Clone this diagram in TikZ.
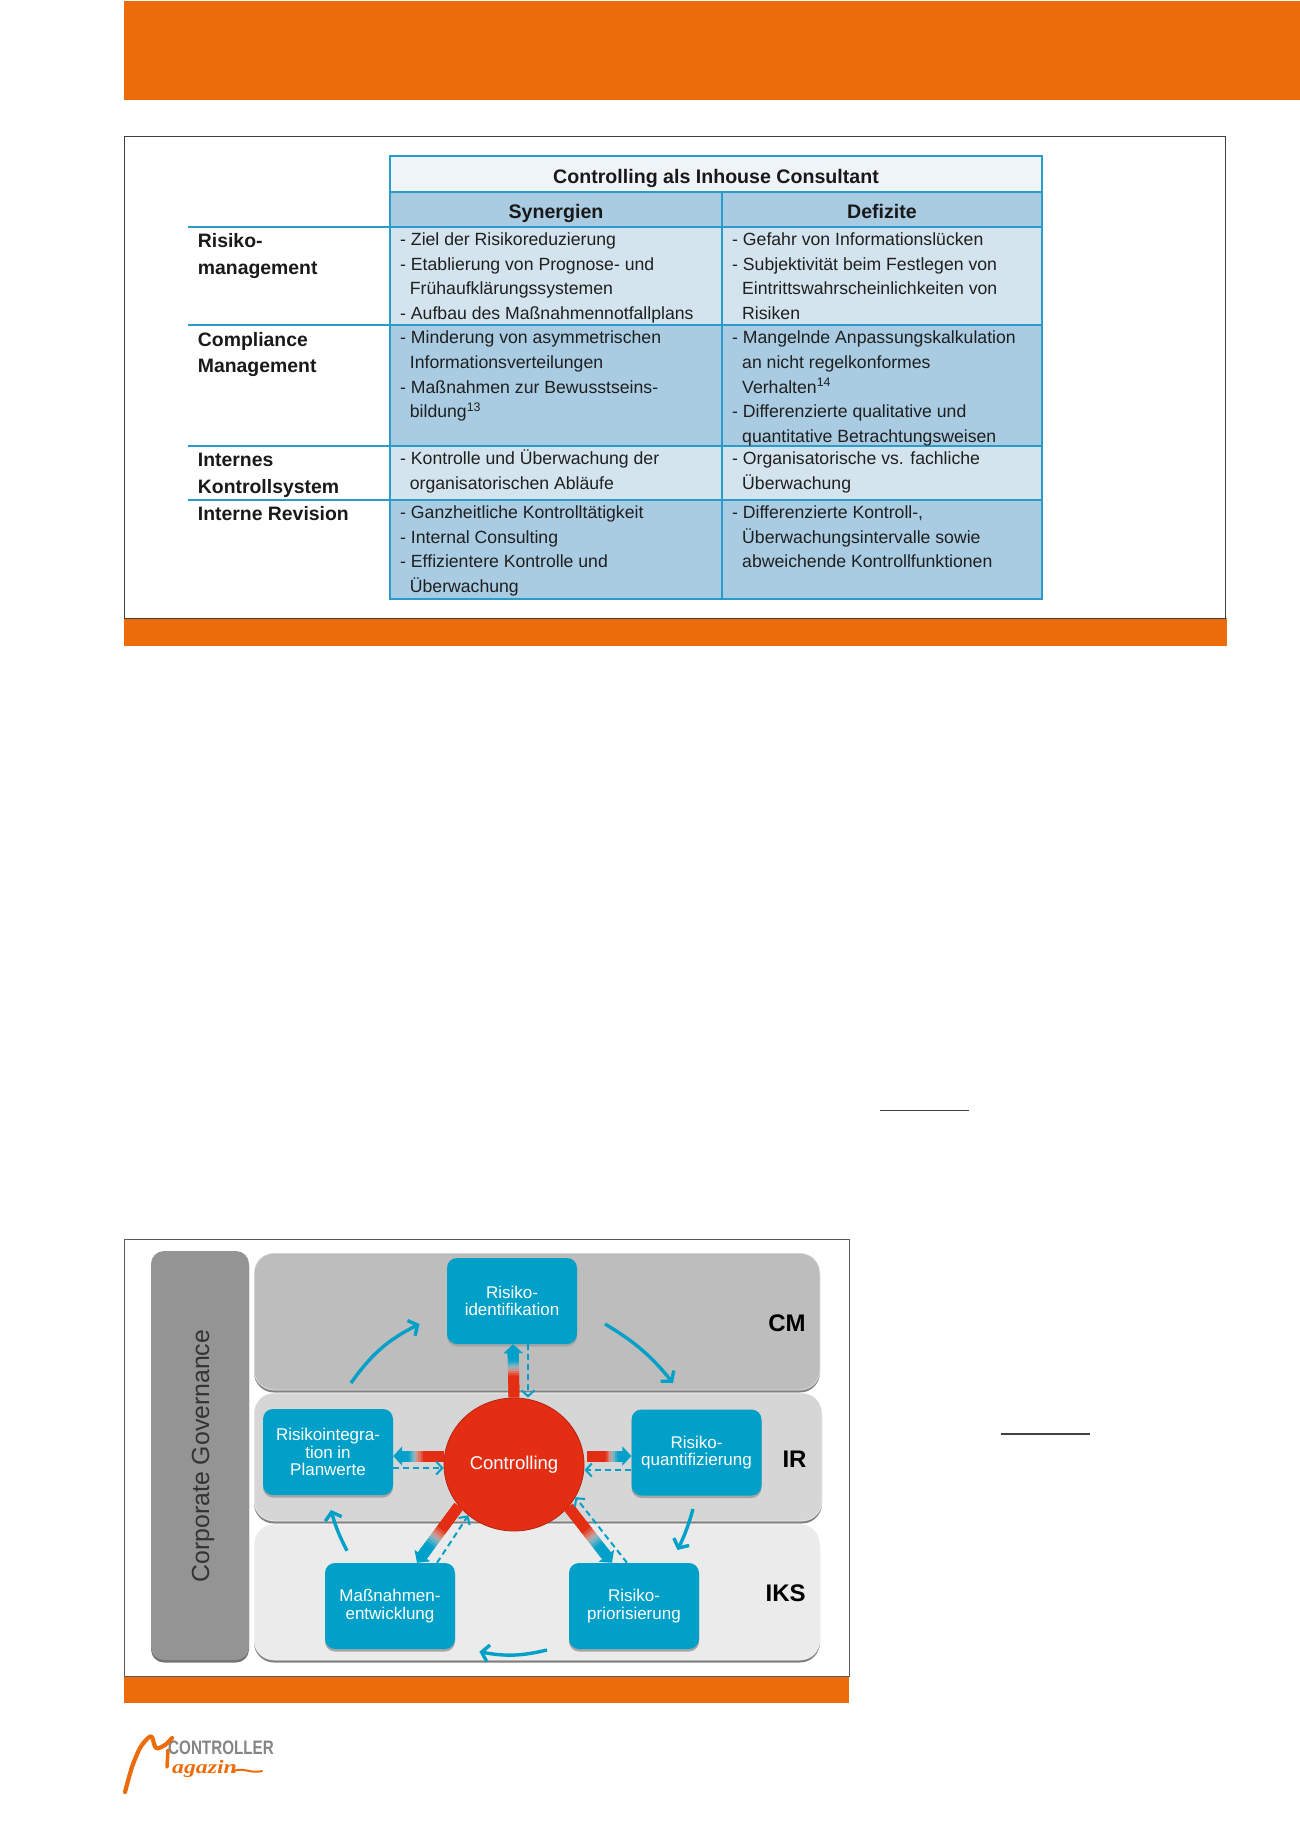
\documentclass[tikz,border=0pt]{standalone}
\usepackage{fontspec}
\setmainfont{Liberation Sans}
\newfontfamily\logofont{Liberation Serif}
\usetikzlibrary{arrows.meta,calc,shapes.geometric}

\definecolor{headorange}{HTML}{EC6C0B}
\definecolor{tableline}{HTML}{2A9CCB}
\definecolor{titlefill}{HTML}{EEF4F7}
\definecolor{darkrow}{HTML}{A9CCE3}
\definecolor{lightrow}{HTML}{D3E4EE}
\definecolor{linkblue}{HTML}{00A0C8}
\definecolor{linkred}{HTML}{E42E14}
\definecolor{linklight}{HTML}{D8C8C4}

\tikzset{
    celltext/.style={anchor=base west,inner sep=0pt,yshift=-0.5pt,text=black!88,font=\fontsize{17.65}{20}\selectfont},
    rowlabel/.style={anchor=base west,inner sep=0pt,text=black!90,font=\bfseries\fontsize{19.4}{22}\selectfont},
    headtext/.style={anchor=base,inner sep=0pt,text=black!90,font=\bfseries\fontsize{19.6}{22}\selectfont},
    bandshadow/.style={preaction={fill=#1,transform canvas={yshift=-2.5pt}}},
    stepbox/.style={rectangle,rounded corners=10pt,fill=linkblue,text=white,align=center,inner sep=0pt,
        minimum width=130pt,minimum height=86pt,bandshadow=black!35,
        font=\fontsize{17}{17.5}\selectfont},
    levellabel/.style={inner sep=0pt,text=black,font=\bfseries\fontsize{24}{24}\selectfont},
    backlink/.style={draw=linkblue,line width=2pt,dash pattern=on 6pt off 4pt,-{Straight Barb[length=6pt,width=13pt]}},
    cyclearrow/.style={draw=linkblue,line width=3.4pt,-{Straight Barb[length=7pt,width=17pt]}},
}

% thick connector, red at the first end, blue with a head at the second
\newcommand{\linkbar}[2]{%
    \foreach \i in {0,...,19} {
        \pgfmathsetmacro{\tpos}{\i/24}
        \pgfmathsetmacro{\tend}{\tpos+0.07}
        \pgfmathtruncatemacro{\pred}{max(0,min(100,(0.56-\tpos)/0.18*100))}
        \pgfmathtruncatemacro{\pblue}{max(0,min(100,(\tpos-0.48)/0.2*100))}
        \colorlet{barcol}{linkblue!\pblue!linklight}
        \colorlet{barcol}{linkred!\pred!barcol}
        \draw[barcol,line width=11pt] ($#1!\tpos!#2$) -- ($#1!\tend!#2$);
    }
    \draw[linkblue,line width=11pt,-{Triangle[width=19pt,length=9pt]}] ($#1!0.78!#2$) -- #2;
}

\begin{document}
\begin{tikzpicture}[x=1pt,y=-1pt]
    \useasboundingbox (0,0) rectangle (1300,1839);

    \fill[headorange] (124,1) rectangle (1300,99.5);

    % table frame
    \fill[headorange] (124,618) rectangle (1227,646);
    \draw[black!75,line width=1pt] (124,618) -- (124,136) -- (1225,136) -- (1225,618) -- cycle;

    % table fills
    \fill[titlefill] (390,156) rectangle (1042,192);
    \foreach \t/\b/\c in {192/227/darkrow,227/325/lightrow,325/446/darkrow,446/500/lightrow,500/599/darkrow}
        {\fill[\c] (390,\t) rectangle (1042,\b);}

    \draw[tableline,line width=1.8pt] (390,156) rectangle (1042,599);
    \draw[tableline,line width=1.8pt] (390,192) -- (1042,192);
    \draw[tableline,line width=1.8pt] (722,192) -- (722,599);
    \foreach \y in {227,325,446,500}
        {\draw[tableline,line width=1.8pt] (188,\y) -- (1042,\y);}

    \node[headtext] (title) at (716,183) {Controlling als Inhouse Consultant};
    \node[headtext] (synergien) at (556,218.5) {Synergien};
    \node[headtext] (defizite) at (882,218.5) {Defizite};

    \foreach \y/\v [count=\n] in {247.3/Risiko-,274/management,346.2/Compliance,372.7/Management,
        466.7/Internes,493.3/Kontrollsystem,520.7/Interne Revision}
        {\node[rowlabel] (label\n) at (197.7,\y) {\v};}

    \foreach \x/\y/\v [count=\n] in {400/245.3/- Ziel der Risikoreduzierung,
        400/270/- Etablierung von Prognose- und,
        409.7/294.3/Frühaufklärungssystemen,
        400/319/- Aufbau des Maßnahmennotfallplans,
        400/343.3/- Minderung von asymmetrischen,
        409.7/368/Informationsverteilungen,
        400/392.7/- Maßnahmen zur Bewusstseins-,
        409.7/417.3/{bildung\textsuperscript{13}},
        400/464.3/- Kontrolle und Überwachung der,
        409.7/489/organisatorischen Abläufe,
        400/518/- Ganzheitliche Kontrolltätigkeit,
        400/542.7/- Internal Consulting,
        400/567.3/- Effizientere Kontrolle und,
        409.7/592/Überwachung}
        {\node[celltext] (syn\n) at (\x,\y) {\v};}

    \foreach \x/\y/\v [count=\n] in {732/245.3/- Gefahr von Informationslücken,
        732/270/- Subjektivität beim Festlegen von,
        742/294.3/Eintrittswahrscheinlichkeiten von,
        742/319/Risiken,
        732/343.3/- Mangelnde Anpassungskalkulation,
        742/368/an nicht regelkonformes,
        742/392.7/{Verhalten\textsuperscript{14}},
        732/417.3/- Differenzierte qualitative und,
        742/441.7/quantitative Betrachtungsweisen,
        732/464.3/- Organisatorische vs. fachliche,
        742/489/Überwachung,
        732/518/{- Differenzierte Kontroll-,},
        742/542.7/Überwachungsintervalle sowie,
        742/567.3/abweichende Kontrollfunktionen}
        {\node[celltext] (def\n) at (\x,\y) {\v};}

    % footnote rules
    \draw[black!75,line width=1.5pt] (880,1110.7) -- (969,1110.7);
    \draw[black!75,line width=1.5pt] (1001,1434) -- (1090,1434);

    % figure frame
    \fill[headorange] (124,1676) rectangle (849,1703);
    \draw[black!65,line width=1pt] (124,1676) -- (124,1239) -- (849,1239) -- (849,1676) -- cycle;

    % bands
    \fill[black!42,rounded corners=13pt,bandshadow=black!55] (151,1251) rectangle (249,1660);
    \foreach \t/\b/\r/\c in {1253/1390/820/black!26,1393/1521/822/black!16,1524/1660/820/black!8}
        {\path[fill=\c,draw=white,draw opacity=.5,line width=1pt,rounded corners=20pt,bandshadow=black!50] (254,\t) rectangle (\r,\b);}

    \node[rotate=90,inner sep=0pt,text=black!80,font=\fontsize{24.8}{26}\selectfont] (corp) at (203,1456) {Corporate Governance};
    \node[levellabel] (cm) at (787,1323) {CM};
    \node[levellabel] (ir) at (794.5,1459) {IR};
    \node[levellabel] (iks) at (785.6,1593) {IKS};

    \node[stepbox] (ident) at (512,1301) {Risiko-\\identifikation};
    \node[stepbox] (integ) at (328,1452) {Risikointegra-\\tion in\\Planwerte};
    \node[stepbox] (quant) at (696.5,1452.5) {Risiko-\\quantifizierung};
    \node[stepbox] (massn) at (390,1606) {Maßnahmen-\\entwicklung};
    \node[stepbox] (prior) at (634,1606) {Risiko-\\priorisierung};
    \node[ellipse,fill=linkred,draw=linkred!80!black,line width=.8pt,text=white,inner sep=0pt,
        minimum width=140pt,minimum height=133pt,font=\fontsize{18.5}{20}\selectfont] (ctrl) at (514,1464.5) {\raisebox{-2pt}{Controlling}};

    % thick links and the dashed way back
    \linkbar{(ctrl.north)}{([xshift=1pt]ident.south)}
    \linkbar{([yshift=8.5pt]ctrl.west)}{([yshift=-4pt]integ.east)}
    \linkbar{([xshift=3pt,yshift=8.5pt]ctrl.east)}{([yshift=-3.5pt]quant.west)}
    \linkbar{(ctrl.217)}{([xshift=27pt]massn.north)}
    \linkbar{(ctrl.322)}{([xshift=-22pt]prior.north)}

    \draw[backlink] ([xshift=16pt]ident.south) -- ([xshift=14pt]ctrl.north);
    \draw[backlink] ([yshift=-16pt]integ.east) -- ([yshift=-3.5pt]ctrl.west);
    \draw[backlink] ([yshift=-17.5pt]quant.west) -- ([yshift=-5.5pt]ctrl.east);
    \draw[backlink] ([xshift=47pt]massn.north) -- (ctrl.228);
    \draw[backlink] ([xshift=-7pt]prior.north) -- (ctrl.332);

    % cycle arrows
    \coordinate (cyc1) at (351,1383);
    \coordinate (cyc2) at (419.5,1324);
    \coordinate (cyc3) at (605,1324);
    \coordinate (cyc4) at (673,1383);
    \coordinate (cyc5) at (693,1509);
    \coordinate (cyc6) at (677.5,1550);
    \coordinate (cyc7) at (547,1650);
    \coordinate (cyc8) at (479.4,1651.7);
    \coordinate (cyc9) at (347,1550.7);
    \coordinate (cyc10) at (331,1510);
    \foreach \from/\to/\bnd in {cyc1/cyc2/14,cyc3/cyc4/10,cyc5/cyc6/5,cyc7/cyc8/12,cyc9/cyc10/6}
        {\draw[cyclearrow] (\from) to[bend left=\bnd] (\to);}

    % logo
    \node[anchor=base west,inner sep=0pt,text=black!48,font=\bfseries\fontsize{19.5}{20}\selectfont] (logotop) at (168,1754.5) {\scalebox{0.78}[1]{CONTROLLER}};
    \draw[headorange,line width=4.2pt,line cap=round,line join=round] plot[smooth] coordinates
        {(125,1792) (132,1767) (140,1748) (148,1738) (152,1737) (156,1748) (165,1745) (172,1738)};
    \draw[headorange,line width=3.5pt,line cap=round] (168,1750) -- (167,1767);
    \node[anchor=base west,inner sep=0pt,text=headorange,font=\logofont\bfseries\itshape\fontsize{19}{19}\selectfont] (logoscript) at (172,1773) {\scalebox{1.25}[1]{agazin}};
    \draw[headorange,line width=2pt,line cap=round] (234,1771) .. controls (242,1767) and (252,1774) .. (262,1771);
\end{tikzpicture}
\end{document}
